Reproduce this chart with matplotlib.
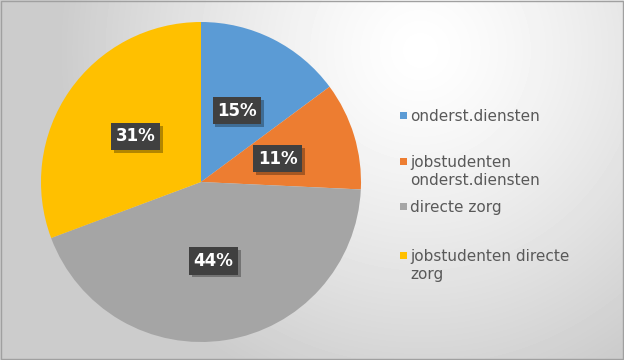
import numpy as np
import matplotlib
matplotlib.use("Agg")
import matplotlib.pyplot as plt
import matplotlib.patheffects as pe
from matplotlib.patches import Rectangle

# Chart data
labels = ["onderst.diensten", "jobstudenten\nonderst.diensten",
          "directe zorg", "jobstudenten directe\nzorg"]
values = [15, 11, 44, 31]
colors = ["#5B9BD5", "#ED7D31", "#A5A5A5", "#FFC000"]

W, H = 624, 360
fig = plt.figure(figsize=(W / 100, H / 100), dpi=100)

# background: soft radial gradient, lightest to the upper right of the pie
bg = fig.add_axes([0, 0, 1, 1])
yy, xx = np.mgrid[0:H, 0:W]
d = np.sqrt(((xx - 420) / 360.0) ** 2 + ((yy - 50) / 360.0) ** 2)
shade = np.clip(1.0 - 0.2 * d ** 1.3, 0.80, 1.0)
bg.imshow(shade, cmap="gray", vmin=0, vmax=1, extent=[0, W, H, 0], aspect="auto")
bg.add_patch(Rectangle((0.5, 0.5), W - 2, H - 2, fill=False, ec="#a0a0a0", lw=1))
bg.set_xlim(0, W)
bg.set_ylim(H, 0)
bg.axis("off")

# pie
cx, cy, r = 201, 182, 160
ax = fig.add_axes([(cx - r) / W, (H - cy - r) / H, 2 * r / W, 2 * r / H])
wedges, texts, autotexts = ax.pie(values, colors=colors, startangle=90,
                                  counterclock=False, autopct="%1.0f%%",
                                  pctdistance=0.5,
                                  wedgeprops=dict(linewidth=0))
for t in autotexts:
    t.set_color("white")
    t.set_fontsize(12)
    t.set_fontweight("bold")
    t.set_bbox(dict(boxstyle="square,pad=0.28", fc="#404040", ec="none"))
    t.get_bbox_patch().set_path_effects(
        [pe.SimplePatchShadow(offset=(2, -2), shadow_rgbFace="black", alpha=0.3),
         pe.Normal()])
ax.set_xlim(-1, 1)
ax.set_ylim(-1, 1)
ax.axis("off")

# legend, placed like the original
legend_y = [117, 163, 208, 257]
for lab, col, y in zip(labels, colors, legend_y):
    bg.add_patch(Rectangle((400, y - 5), 7, 7, color=col, lw=0))
    bg.text(410, y - 8, lab, color="#595959", fontsize=11, va="top",
            ha="left", linespacing=1.25, fontfamily="DejaVu Sans")

fig.savefig("out.png", dpi=100)
